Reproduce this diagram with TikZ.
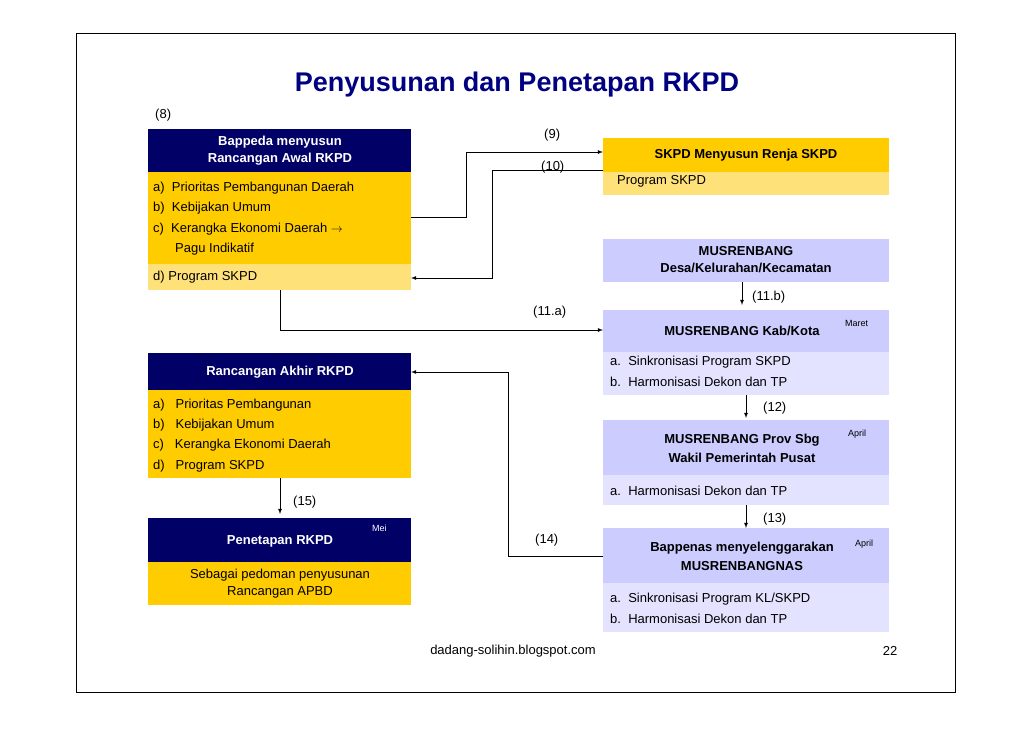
\documentclass[tikz,border=0pt]{standalone}
\usepackage{fontspec}
\setmainfont{Liberation Sans}
\begin{document}
\begin{tikzpicture}[x=1pt,y=-1pt,
  txt/.style={font=\fontsize{13}{15}\selectfont,inner sep=0pt,anchor=west},
  ctxt/.style={font=\fontsize{13}{15}\selectfont\bfseries,inner sep=0pt,align=center},
  small/.style={font=\fontsize{9}{10}\selectfont,inner sep=0pt},
  arr/.style={-latex,line width=0.8pt},
  hdr/.style={fill=navyhd,draw=none},
  gold/.style={fill=goldc,draw=none},
  lgold/.style={fill=lgoldc,draw=none},
  lav/.style={fill=lavc,draw=none},
  llav/.style={fill=llavc,draw=none}]
\definecolor{navyhd}{HTML}{000066}
\definecolor{titlec}{HTML}{000080}
\definecolor{goldc}{HTML}{FFCC00}
\definecolor{lgoldc}{HTML}{FFE17A}
\definecolor{lavc}{HTML}{CCCCFF}
\definecolor{llavc}{HTML}{E3E3FF}
\useasboundingbox (0,0) rectangle (1030,728);
\draw[line width=0.6pt] (76,33) rectangle (955,692);
\node[font=\fontsize{27}{30}\selectfont\bfseries,text=titlec] (title) at (517,85) {Penyusunan dan Penetapan RKPD};
\node[txt] (l8) at (155,115) {(8)};
% left box 1
\fill[hdr] (148,129) rectangle (411,172);
\fill[gold] (148,172) rectangle (411,264);
\fill[lgold] (148,264) rectangle (411,290);
\node[ctxt,text=white] (b1h) at (280,151) {Bappeda menyusun\\[2pt]Rancangan Awal RKPD};
\node[txt] (b1a) at (153,188) {a)\ \ Prioritas Pembangunan Daerah};
\node[txt] (b1b) at (153,208) {b)\ \ Kebijakan Umum};
\node[txt] (b1c) at (153,229) {c)\ \ Kerangka Ekonomi Daerah \(\rightarrow\)};
\node[txt] (b1c2) at (175,249) {Pagu Indikatif};
\node[txt] (b1d) at (153,277) {d) Program SKPD};
\coordinate (b1r) at (411,217);
\coordinate (b1d2) at (411,278);
\coordinate (b1bot) at (280,290);
% SKPD
\fill[gold] (603,138) rectangle (889,172);
\fill[lgold] (603,172) rectangle (889,195);
\node[ctxt] (skh) at (746,155) {SKPD Menyusun Renja SKPD};
\node[txt] (skp) at (617,181) {Program SKPD};
\coordinate (sk1) at (603,152);
\coordinate (sk2) at (603,170);
\draw[arr] (b1r) -| (466,152) -- (sk1);
\draw[arr] (sk2) -| (492,278) -- (b1d2);
\node[txt] (l9) at (544,135) {(9)};
\node[txt] (l10) at (541,167) {(10)};
% Desa
\fill[lav] (603,239) rectangle (889,282);
\node[ctxt] (desa) at (746,260) {MUSRENBANG\\[2pt]Desa/Kelurahan/Kecamatan};
% Kab
\fill[lav] (603,310) rectangle (889,352);
\fill[llav] (603,352) rectangle (889,395);
\node[ctxt] (kab) at (742,331) {MUSRENBANG Kab/Kota};
\node[small,anchor=west] (maret) at (845,323) {Maret};
\node[txt] (kaba) at (610,362) {a.\ \ Sinkronisasi Program SKPD};
\node[txt] (kabb) at (610,382) {b.\ \ Harmonisasi Dekon dan TP};
\draw[arr] (742,282) -- (742,305);
\node[txt] (l11b) at (752,297) {(11.b)};
\draw[arr] (b1bot) |- (603,330);
\node[txt] (l11a) at (533,312) {(11.a)};
% Prov
\fill[lav] (603,420) rectangle (889,475);
\fill[llav] (603,475) rectangle (889,505);
\node[ctxt] (prov) at (742,448) {MUSRENBANG Prov Sbg\\[4pt]Wakil Pemerintah Pusat};
\node[small,anchor=west] (apr1) at (848,434) {April};
\node[txt] (prova) at (610,491) {a.\ \ Harmonisasi Dekon dan TP};
\draw[arr] (746,395) -- (746,418);
\node[txt] (l12) at (763,408) {(12)};
\draw[arr] (746,505) -- (746,528);
\node[txt] (l13) at (763,519) {(13)};
% Bappenas
\fill[lav] (603,528) rectangle (889,583);
\fill[llav] (603,583) rectangle (889,632);
\node[ctxt] (bap) at (742,556) {Bappenas menyelenggarakan\\[4pt]MUSRENBANGNAS};
\node[small,anchor=west] (apr2) at (855,544) {April};
\node[txt] (bapa) at (610,599) {a.\ \ Sinkronisasi Program KL/SKPD};
\node[txt] (bapb) at (610,619) {b.\ \ Harmonisasi Dekon dan TP};
% Rancangan Akhir
\fill[hdr] (148,353) rectangle (411,390);
\fill[gold] (148,390) rectangle (411,478);
\node[ctxt,text=white] (rah) at (280,372) {Rancangan Akhir RKPD};
\node[txt] (raa) at (153,405) {a)\ \ \ Prioritas Pembangunan};
\node[txt] (rab) at (153,425) {b)\ \ \ Kebijakan Umum};
\node[txt] (rac) at (153,445) {c)\ \ \ Kerangka Ekonomi Daerah};
\node[txt] (rad) at (153,466) {d)\ \ \ Program SKPD};
\draw[arr] (603,556) -| (508,372) -- (411,372);
\node[txt] (l14) at (535,540) {(14)};
% Penetapan
\fill[hdr] (148,518) rectangle (411,562);
\fill[gold] (148,562) rectangle (411,605);
\node[ctxt,text=white] (pen) at (280,541) {Penetapan RKPD};
\node[small,anchor=west,text=white] (mei) at (372,528) {Mei};
\node[font=\fontsize{13}{15}\selectfont,align=center,inner sep=0pt] (pent) at (280,584) {Sebagai pedoman penyusunan\\[2pt]Rancangan APBD};
\draw[arr] (280,478) -- (280,514);
\node[txt] (l15) at (293,502) {(15)};
% footer
\node[font=\fontsize{13}{15}\selectfont,inner sep=0pt] (foot) at (513,651) {dadang-solihin.blogspot.com};
\node[font=\fontsize{13}{15}\selectfont,inner sep=0pt] (pg) at (890,651) {22};
\end{tikzpicture}
\end{document}
